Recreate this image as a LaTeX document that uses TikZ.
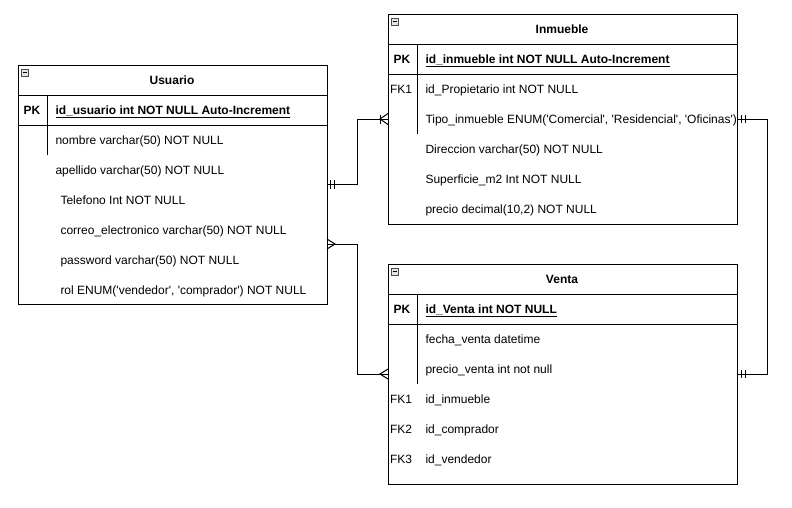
\documentclass[tikz,border=0pt]{standalone}
\usepackage{fontspec}
\setmainfont{Liberation Sans}
\newcommand{\sq}{\textquotesingle}
\begin{document}
\begin{tikzpicture}[x=1pt,y=-1pt,font=\fontsize{12}{14}\selectfont,line width=1pt]
\tikzset{
 tbl/.style={draw,line width=1pt,inner sep=0,anchor=north west},
 fld/.style={anchor=base west,inner sep=0},
 keylbl/.style={anchor=base,inner sep=0},
 ttl/.style={font=\fontsize{12}{14}\selectfont\bfseries,inner sep=0,anchor=base},
 pkf/.style={anchor=base west,inner sep=0,font=\fontsize{12}{14}\selectfont\bfseries},
 icon/.style={draw=gray!60!black,fill=gray!20,minimum size=7pt,inner sep=0,line width=0.6pt},
 rel/.style={line width=1pt}
}
\useasboundingbox (0,0) rectangle (792,507);
\fill[white] (0,0) rectangle (792,507);

% ---------------- Usuario ----------------
\node[tbl,minimum width=309pt,minimum height=239pt] (usuario) at (18,65) {};
\draw (18,95) -- (327,95);
\draw (18,125) -- (327,125);
\draw (47,95) -- (47,155);
\node[icon] (uicon) at (25,72.5) {};
\draw[line width=0.8pt] ([xshift=1.5pt]uicon.west) -- ([xshift=-1.5pt]uicon.east);
\node[ttl] (utitle) at (172,84.5) {Usuario};
\node[ttl] (upk) at (32,114.5) {PK};
\node[pkf] (uid) at (55,114.5) {\underline{id\_usuario int NOT NULL Auto-Increment}};
\node[fld] (u1) at (55,144.5) {nombre varchar(50) NOT NULL};
\node[fld] (u2) at (55,174.5) {apellido varchar(50) NOT NULL};
\node[fld] (u3) at (60,204.5) {Telefono Int NOT NULL};
\node[fld] (u4) at (60,234.5) {correo\_electronico varchar(50) NOT NULL};
\node[fld] (u5) at (60,264.5) {password varchar(50) NOT NULL};
\node[fld] (u6) at (60,294.5) {rol ENUM(\sq vendedor\sq, \sq comprador\sq) NOT NULL};

% ---------------- Inmueble ----------------
\node[tbl,minimum width=349pt,minimum height=210pt] (inmueble) at (388,14) {};
\draw (388,44) -- (737,44);
\draw (388,74) -- (737,74);
\draw (417,44) -- (417,134);
\node[icon] (iicon) at (395,21.5) {};
\draw[line width=0.8pt] ([xshift=1.5pt]iicon.west) -- ([xshift=-1.5pt]iicon.east);
\node[ttl] (ititle) at (562,33.5) {Inmueble};
\node[ttl] (ipk) at (402,63.5) {PK};
\node[pkf] (iid) at (425,63.5) {\underline{id\_inmueble int NOT NULL Auto-Increment}};
\node[keylbl] (ifk) at (401,93.5) {FK1};
\node[fld] (i1) at (425,93.5) {id\_Propietario int NOT NULL};
\node[fld] (i2) at (425,123.5) {Tipo\_inmueble ENUM(\sq Comercial\sq, \sq Residencial\sq, \sq Oficinas\sq)};
\node[fld] (i3) at (425,153.5) {Direccion varchar(50) NOT NULL};
\node[fld] (i4) at (425,183.5) {Superficie\_m2 Int NOT NULL};
\node[fld] (i5) at (425,213.5) {precio decimal(10,2) NOT NULL};

% ---------------- Venta ----------------
\node[tbl,minimum width=349pt,minimum height=220pt] (venta) at (388,264) {};
\draw (388,294) -- (737,294);
\draw (388,324) -- (737,324);
\draw (417,294) -- (417,384);
\node[icon] (vicon) at (395,271.5) {};
\draw[line width=0.8pt] ([xshift=1.5pt]vicon.west) -- ([xshift=-1.5pt]vicon.east);
\node[ttl] (vtitle) at (562,283.5) {Venta};
\node[ttl] (vpk) at (402,313.5) {PK};
\node[pkf] (vid) at (425,313.5) {\underline{id\_Venta int NOT NULL}};
\node[fld] (v1) at (425,343.5) {fecha\_venta datetime};
\node[fld] (v2) at (425,373.5) {precio\_venta int not null};
\node[keylbl] (vfk1) at (401,403.5) {FK1};
\node[fld] (v3) at (425,403.5) {id\_inmueble};
\node[keylbl] (vfk2) at (401,433.5) {FK2};
\node[fld] (v4) at (425,433.5) {id\_comprador};
\node[keylbl] (vfk3) at (401,463.5) {FK3};
\node[fld] (v5) at (425,463.5) {id\_vendedor};

% ---------------- Connectors ----------------
\coordinate (uA) at (327,184);
\coordinate (iA) at (388,119);
\coordinate (uB) at (327,244);
\coordinate (vA) at (388,374);
\coordinate (iB) at (737,119);
\coordinate (vB) at (737,374);

% Usuario -> Inmueble
\draw[rel] (uA) -- (357,184) -- (357,119) -- (iA);
\draw[rel] (330,180) -- (330,189);
\draw[rel] (334,180) -- (334,189);
\draw[rel] (380,114.5) -- (380,123.5);
\draw[rel] (388,113.5) -- (380,119) -- (388,124.5);

% Usuario -> Venta
\draw[rel] (uB) -- (357,244) -- (357,374) -- (vA);
\draw[rel] (327,239) -- (335,244) -- (327,249);
\draw[rel] (388,369) -- (380,374) -- (388,379);

% Inmueble -> Venta
\draw[rel] (iB) -- (767,119) -- (767,374) -- (vB);
\draw[rel] (741,115) -- (741,123);
\draw[rel] (745,115) -- (745,123);
\draw[rel] (741,370) -- (741,378);
\draw[rel] (745,370) -- (745,378);
\end{tikzpicture}
\end{document}
